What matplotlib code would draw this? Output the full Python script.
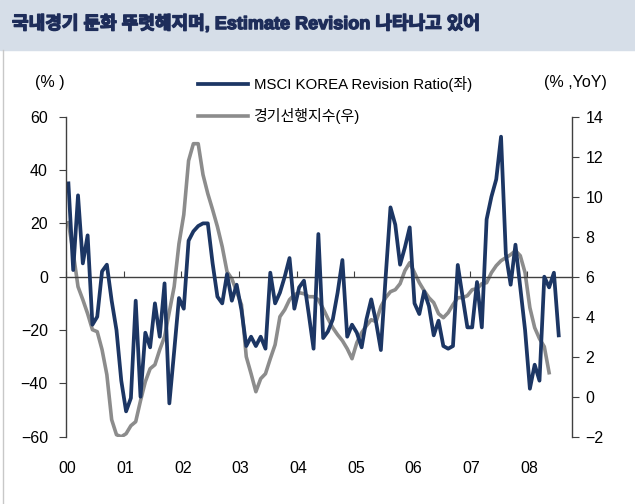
import numpy as np
import matplotlib
matplotlib.use('Agg')
import matplotlib.pyplot as plt
import matplotlib.patheffects as pe
from matplotlib.patches import Rectangle
from matplotlib.lines import Line2D
from matplotlib.transforms import blended_transform_factory

# MSCI Korea revision ratio (left axis, %), monthly from Jan 2000
revision = [35, 2.5, 30.5, 5, 15.5, -18, -15, 2, 4.5, -9, -20, -39,
            -50.5, -45.5, -9, -45, -21, -26.5, -10, -22.5, -2.5, -47.5, -28, -8,
            -12, 13.5, 17, 19, 20, 20, 5, -7.5, -10, 1, -9, -3,
            -12.5, -26, -22.5, -26, -22.5, -27, 1.5, -10, -6, 0, 7, -12,
            -4, -1.5, -14, -27, 16, -23, -20.5, -16, -6, 6.25, -22.5, -18,
            -21, -26.5, -16, -8.5, -17, -27.5, 0, 26, 19.5, 4.5, 11, 18.5,
            -10, -14, -5.5, -11, -22, -16.5, -26, -27, -26, 4.4, -7.5, -19,
            -19, -2, -19, 21.5, 30, 36.5, 52.5, 8.5, -3, 12, -4, -20,
            -42, -33, -39, 0, -4, 1.5, -22]

# leading index (right axis, % YoY)
leading = [8.7, 7.2, 5.5, 4.85, 4.15, 3.35, 3.25, 2.35, 1.1, -1.15, -1.9, -2.0,
           -1.85, -1.45, -1.25, -0.2, 0.75, 1.4, 1.6, 2.35, 3.0, 4.25, 5.5, 7.65,
           9.1, 11.8, 12.65, 12.65, 11.1, 10.15, 9.35, 8.5, 7.5, 6.25, 5.9, 5.25,
           4.6, 2.0, 1.15, 0.25, 0.9, 1.15, 1.9, 2.6, 4.0, 4.35, 4.85, 5.1,
           5.2, 5.15, 5.0, 5.0, 4.85, 4.4, 3.9, 3.45, 3.1, 2.8, 2.4, 1.9,
           2.7, 3.2, 3.55, 3.85, 3.75, 4.5, 4.95, 5.25, 5.35, 5.65, 6.3, 6.7,
           6.2, 5.7, 5.3, 4.95, 4.7, 4.15, 3.95, 4.2, 4.6, 4.95, 4.95, 5.05,
           5.35, 5.4, 5.65, 5.7, 6.2, 6.55, 6.8, 6.95, 7.1, 7.3, 7.05, 6.2,
           4.45, 3.45, 2.9, 2.5, 1.2]

year_labels = ['00', '01', '02', '03', '04', '05', '06', '07', '08']
left_ticks = [-60, -40, -20, 0, 20, 40, 60]
right_ticks = [-2, 0, 2, 4, 6, 8, 10, 12, 14]

title = '국내경기 둔화 뚜렷해지며, Estimate Revision 나타나고 있어'
blue_label = 'MSCI KOREA Revision Ratio(좌)'
gray_label = '경기선행지수(우)'

plt.rcParams['font.family'] = ['Liberation Sans', 'Noto Sans CJK KR', 'DejaVu Sans']
BLUE = '#1C3664'
GRAY = '#8C8C8C'
DARK = '#404040'
W, H = 635, 504
FS = 11.5

fig = plt.figure(figsize=(W / 100, H / 100), dpi=100)

# title band and left frame line
fig.patches.append(Rectangle((0, 1 - 50 / H), 1, 50 / H, transform=fig.transFigure,
                             color='#D6DEE8', zorder=0))
fig.text(12 / W, 1 - 24 / H, title, fontsize=13, fontweight='bold',
         color='#1E2D5A', va='center',
         path_effects=[pe.withStroke(linewidth=1.0, foreground='#1E2D5A')])
fig.add_artist(Line2D([3 / W, 3 / W], [0, 1 - 50 / H], transform=fig.transFigure,
                      color='#C8C8C8', lw=1))

ax = fig.add_axes([66 / W, 67.3 / H, 505.7 / W, 320 / H])
ax2 = ax.twinx()
ax.set_zorder(ax2.get_zorder() + 1)
ax.patch.set_visible(False)

x_blue = np.arange(len(revision)) + 0.5
x_gray = np.arange(len(leading)) + 0.5
l2, = ax2.plot(x_gray, leading, color=GRAY, lw=2.6)
l1, = ax.plot(x_blue, revision, color=BLUE, lw=2.7)

ax.set_xlim(0, 105.2)
ax.set_ylim(-60, 60)
ax.set_yticks(left_ticks)
ax2.set_ylim(-2, 14)
ax2.set_yticks(right_ticks)

for s in ['top', 'right']:
    ax.spines[s].set_visible(False)
for s in ['top', 'bottom', 'left']:
    ax2.spines[s].set_visible(False)
ax.spines['bottom'].set_position(('data', 0))
ax.spines['bottom'].set_zorder(1)
for sp in [ax.spines['left'], ax.spines['bottom'], ax2.spines['right']]:
    sp.set_color(DARK)
    sp.set_linewidth(1)

ax.set_xticks(np.arange(0, 97, 12))
ax.tick_params(axis='x', direction='in', length=4, color=DARK, labelbottom=False)
ax.tick_params(axis='y', direction='out', length=5, color=DARK, pad=8, labelsize=FS)
ax2.tick_params(axis='y', direction='out', length=5, color=DARK, pad=5, labelsize=FS)

trans = blended_transform_factory(ax.transData, ax.transAxes)
for pos, lab in zip(np.arange(0, 97, 12), year_labels):
    ax.text(pos + 0.3, -0.098, lab, transform=trans, ha='center', va='center', fontsize=FS)

fig.text(50 / W, 1 - 83 / H, '(% )', ha='center', va='center', fontsize=FS)
fig.text(575 / W, 1 - 83 / H, '(% ,YoY)', ha='center', va='center', fontsize=FS)

fig.legend([l1, l2], [blue_label, gray_label], loc='upper left',
           bbox_to_anchor=(198 / W, 1 - 76 / H), frameon=False, fontsize=10.8,
           handlelength=3.3, handletextpad=0.4, labelspacing=1.05,
           borderpad=0, borderaxespad=0)

fig.savefig('out.png', dpi=100)
